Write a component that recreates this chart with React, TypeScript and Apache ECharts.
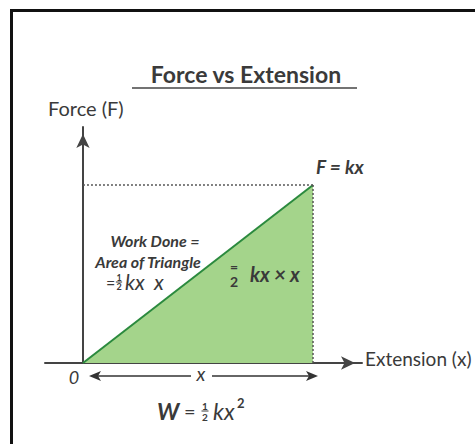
import React, { useEffect, useRef } from "react";
import * as echarts from "echarts";

// Data (normalised units: x = extension, F = k x)
const extension = [0, 1];
const force = [0, 1];
const titleText = "Force vs Extension";
const yAxisLabel = "Force (F)";
const xAxisLabel = "Extension (x)";
const lawLabel = "F = kx";
const workLines = ["Work Done =", "Area of Triangle"];

const FONT = "Lato, 'Open Sans', sans-serif";
const TXT = "#3a3a3a";

function txt(text: string, x: number, y: number, size: number, opts: any = {}) {
  return {
    type: "text",
    x,
    y,
    z: 10,
    style: {
      text,
      fontFamily: FONT,
      fontSize: size,
      fontWeight: opts.weight || "normal",
      fontStyle: opts.style || "normal",
      fill: opts.fill || TXT,
      align: opts.align || "left",
      verticalAlign: "middle",
      lineHeight: opts.lineHeight,
    },
  };
}

function frac(x: number, y: number, size: number, top = "1", bottom = "2", bar = true) {
  const items: any[] = [
    txt(top + "\n" + bottom, x, y, size, { align: "center", weight: "bold", lineHeight: size * 1.1 }),
  ];
  if (bar) {
    items.push({
      type: "line",
      z: 11,
      shape: { x1: x - size * 0.35, y1: y, x2: x + size * 0.35, y2: y },
      style: { stroke: TXT, lineWidth: 1 },
    });
  }
  return items;
}

function arrowHead(tipX: number, y: number, dir: number) {
  return {
    type: "polygon",
    z: 10,
    shape: {
      points: [
        [tipX, y],
        [tipX - dir * 12, y - 5],
        [tipX - dir * 9, y],
        [tipX - dir * 12, y + 5],
      ],
    },
    style: { fill: "#333" },
  };
}

export default function App() {
  const ref = useRef<HTMLDivElement>(null);
  useEffect(() => {
    document.body.style.margin = "0";
    if (!ref.current) return;
    const chart = echarts.init(ref.current, undefined, { renderer: "svg" });
    const data = extension.map((x, i) => [x, force[i]]);
    const xTop = extension[extension.length - 1];
    const fTop = force[force.length - 1];
    chart.setOption({
      animation: false,
      backgroundColor: "#fff",
      grid: { left: 45, right: 113, top: 127, bottom: 81 },
      xAxis: {
        type: "value",
        min: -0.165,
        max: 1.213,
        splitLine: { show: false },
        axisTick: { show: false },
        axisLabel: { show: false },
        axisLine: {
          onZero: true,
          symbol: ["none", "arrow"],
          symbolSize: [10, 14],
          symbolOffset: [0, -7],
          lineStyle: { color: "#444", width: 2 },
        },
      },
      yAxis: {
        type: "value",
        min: 0,
        max: 1.326,
        splitLine: { show: false },
        axisTick: { show: false },
        axisLabel: { show: false },
        axisLine: {
          onZero: true,
          symbol: ["none", "arrow"],
          symbolSize: [10, 14],
          symbolOffset: [0, -7],
          lineStyle: { color: "#444", width: 2 },
        },
      },
      series: [
        {
          type: "line",
          data,
          showSymbol: false,
          silent: true,
          lineStyle: { color: "#2b8a3e", width: 2 },
          areaStyle: { color: "#a4d48b", opacity: 1 },
          markLine: {
            silent: true,
            symbol: "none",
            label: { show: false },
            lineStyle: { color: "#555", width: 1.5, type: [2, 2] },
            data: [
              [{ coord: [0, fTop] }, { coord: [xTop, fTop] }],
              [{ coord: [xTop, fTop] }, { coord: [xTop, 0] }],
            ],
          },
        },
      ],
      graphic: [
        {
          type: "line",
          shape: { x1: 10, y1: 10.5, x2: 475, y2: 10.5 },
          style: { stroke: "#111", lineWidth: 3 },
        },
        {
          type: "line",
          shape: { x1: 11.5, y1: 9, x2: 11.5, y2: 444 },
          style: { stroke: "#111", lineWidth: 3 },
        },
        txt(titleText, 246, 74, 23, { align: "center", weight: "bold" }),
        {
          type: "line",
          shape: { x1: 132, y1: 88, x2: 357, y2: 88 },
          style: { stroke: "#444", lineWidth: 1.5 },
        },
        txt(yAxisLabel, 48, 108, 20),
        txt(xAxisLabel, 365, 358, 19),
        txt(lawLabel, 316, 166, 19, { style: "italic", weight: "bold" }),
        txt(workLines[0], 155, 240, 16, { align: "center", style: "italic", weight: "bold" }),
        txt(workLines[1], 148, 261, 16, { align: "center", style: "italic", weight: "bold" }),
        txt("=", 106, 282, 16),
        ...frac(119, 282, 9),
        txt("kx", 125, 281, 21, { style: "italic" }),
        txt("x", 154, 281, 21, { style: "italic" }),
        ...frac(234, 274, 14, "=", "2", false),
        txt("kx × x", 250, 274, 20, { style: "italic", weight: "bold" }),
        txt("0", 74, 377, 18, { align: "center", style: "italic" }),
        {
          type: "line",
          shape: { x1: 95, y1: 376, x2: 191, y2: 376 },
          style: { stroke: "#333", lineWidth: 1.5 },
        },
        {
          type: "line",
          shape: { x1: 212, y1: 376, x2: 311, y2: 376 },
          style: { stroke: "#333", lineWidth: 1.5 },
        },
        arrowHead(89, 376, -1),
        arrowHead(318, 376, 1),
        txt("x", 201, 373, 19, { align: "center", style: "italic" }),
        txt("W", 157, 411, 23, { style: "italic", weight: "bold" }),
        txt("=", 184, 411, 20),
        ...frac(205, 411, 10),
        txt("kx", 213, 411, 23, { style: "italic" }),
        txt("2", 237, 403, 13, { weight: "bold" }),
      ],
    });
    return () => chart.dispose();
  }, []);
  return <div ref={ref} style={{ width: 475, height: 444 }} />;
}
